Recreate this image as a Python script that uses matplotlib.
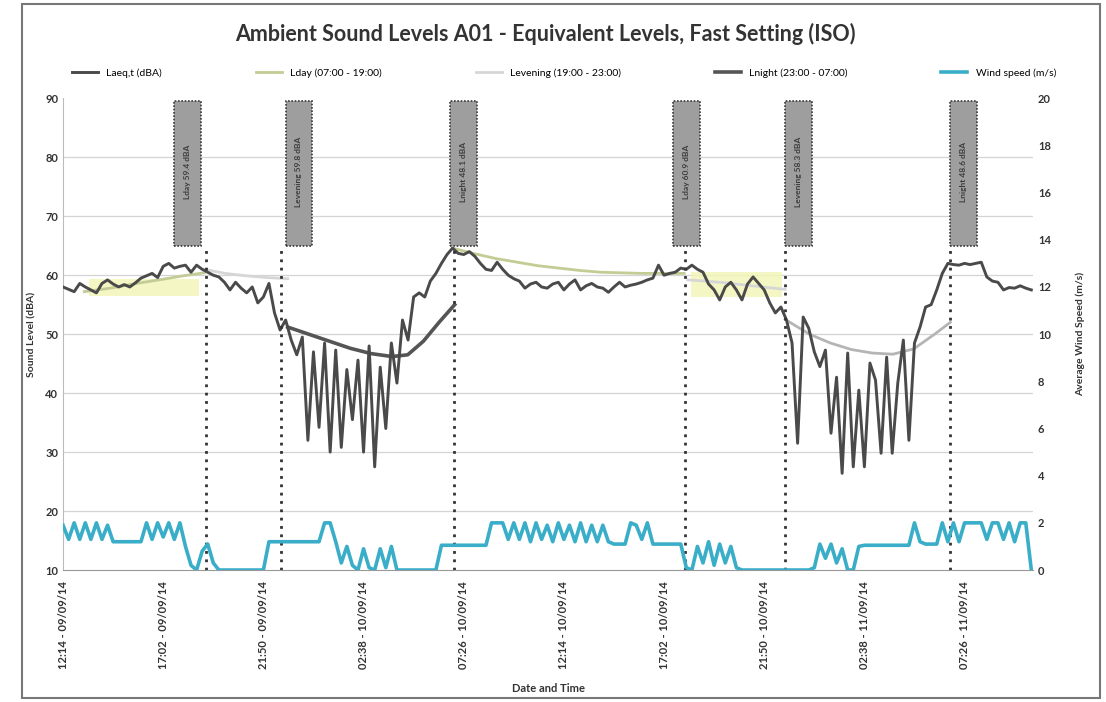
import numpy as np
import pandas as pd
import matplotlib

matplotlib.use("Agg")
import matplotlib.pyplot as plt
from matplotlib.patches import Rectangle

plt.rcParams["font.family"] = ["Lato", "DejaVu Sans"]

# LAeq,T every 16 min from 12:14 09/09/14
laeq = [58.0, 57.6, 57.2, 58.6, 58.0, 57.5, 57.0, 58.6, 59.2, 58.5,
        58.0, 58.4, 58.0, 58.7, 59.5, 59.9, 60.3, 59.6, 61.5, 62.0,
        61.2, 61.5, 61.7, 60.5, 61.7, 61.0, 60.5, 60.0, 59.7, 58.8,
        57.5, 58.8, 57.8, 57.0, 58.0, 55.3, 56.3, 58.6, 53.6, 50.7,
        52.4, 49.0, 46.5, 49.5, 32.0, 47.0, 34.2, 48.5, 30.0, 47.3,
        30.8, 44.0, 35.5, 45.6, 30.0, 48.0, 27.5, 44.4, 34.0, 48.5,
        41.7, 52.4, 49.0, 56.3, 57.0, 56.3, 59.0, 60.3, 62.0, 63.5,
        64.6, 63.7, 63.5, 64.0, 63.2, 62.0, 61.0, 60.8, 62.2, 61.0,
        60.0, 59.4, 59.0, 57.8, 58.5, 58.8, 58.0, 57.8, 58.5, 58.8,
        57.5, 58.5, 59.2, 57.5, 58.2, 58.6, 58.0, 57.8, 57.1, 58.0,
        58.8, 58.0, 58.3, 58.5, 58.8, 59.2, 59.5, 61.7, 60.0, 60.3,
        60.5, 61.2, 61.0, 61.7, 61.0, 60.5, 58.5, 57.5, 55.8, 58.0,
        58.8, 57.5, 55.8, 58.5, 59.7, 58.6, 57.5, 55.3, 53.6, 54.6,
        52.4, 48.5, 31.5, 52.9, 51.0, 47.0, 44.5, 47.3, 33.2, 42.7,
        26.4, 46.8, 27.5, 40.5, 27.5, 45.1, 42.2, 29.8, 46.1, 29.8,
        41.7, 49.0, 32.0, 48.5, 51.2, 54.6, 55.0, 57.5, 60.3, 62.0,
        61.8, 61.7, 62.0, 61.8, 62.0, 62.2, 59.7, 59.0, 58.8, 57.5,
        57.9, 57.8, 58.2, 57.8, 57.5]

wind = [1.9, 1.3, 2.0, 1.3, 2.0, 1.3, 2.0, 1.3, 1.9, 1.2,
        1.2, 1.2, 1.2, 1.2, 1.2, 2.0, 1.3, 2.0, 1.4, 2.0,
        1.3, 2.0, 1.0, 0.2, 0.0, 0.8, 1.1, 0.3, 0.0, 0.0,
        0.0, 0.0, 0.0, 0.0, 0.0, 0.0, 0.0, 1.2, 1.2, 1.2,
        1.2, 1.2, 1.2, 1.2, 1.2, 1.2, 1.2, 2.0, 2.0, 1.2,
        0.3, 1.0, 0.2, 0.0, 0.9, 0.1, 0.0, 0.9, 0.1, 1.0,
        0.0, 0.0, 0.0, 0.0, 0.0, 0.0, 0.0, 0.0, 1.05, 1.05,
        1.05, 1.05, 1.05, 1.05, 1.05, 1.05, 1.05, 2.0, 2.0, 2.0,
        1.3, 2.0, 1.3, 2.0, 1.2, 2.0, 1.3, 1.9, 1.2, 2.0,
        1.3, 1.9, 1.2, 2.0, 1.2, 1.9, 1.2, 1.9, 1.2, 1.1,
        1.1, 1.1, 2.0, 1.9, 1.3, 2.0, 1.1, 1.1, 1.1, 1.1,
        1.1, 1.1, 0.1, 0.0, 1.0, 0.3, 1.2, 0.2, 1.1, 0.3,
        1.0, 0.1, 0.0, 0.0, 0.0, 0.0, 0.0, 0.0, 0.0, 0.0,
        0.0, 0.0, 0.0, 0.0, 0.0, 0.1, 1.1, 0.5, 1.1, 0.3,
        0.9, 0.0, 0.0, 1.0, 1.05, 1.05, 1.05, 1.05, 1.05, 1.05,
        1.05, 1.05, 1.05, 2.0, 1.2, 1.1, 1.1, 1.1, 2.0, 1.2,
        2.0, 1.2, 2.0, 2.0, 2.0, 2.0, 1.3, 2.0, 2.0, 1.3,
        2.0, 1.2, 2.0, 2.0, 0.0]

# period levels (running values)
lday_t1 = ["2014-09-09 13:15", "2014-09-09 14:30", "2014-09-09 15:45",
           "2014-09-09 17:00", "2014-09-09 18:00", "2014-09-09 19:00"]
lday_v1 = [57.2, 57.8, 58.6, 59.3, 59.9, 60.4]
lday_t2 = ["2014-09-10 07:00", "2014-09-10 08:00", "2014-09-10 09:00",
           "2014-09-10 10:00", "2014-09-10 11:00", "2014-09-10 12:00",
           "2014-09-10 13:00", "2014-09-10 14:00", "2014-09-10 15:00",
           "2014-09-10 16:00", "2014-09-10 17:00", "2014-09-10 18:00"]
lday_v2 = [64.5, 63.6, 62.8, 62.2, 61.6, 61.2, 60.8, 60.5, 60.4, 60.3, 60.3, 60.3]

leve_t1 = ["2014-09-09 19:00", "2014-09-09 20:00", "2014-09-09 21:00",
           "2014-09-09 22:00", "2014-09-09 23:00"]
leve_v1 = [61.0, 60.3, 59.9, 59.6, 59.4]
leve_t2 = ["2014-09-10 18:10", "2014-09-10 19:00", "2014-09-10 20:00",
           "2014-09-10 21:00", "2014-09-10 22:00", "2014-09-10 22:50"]
leve_v2 = [59.2, 59.0, 58.7, 58.3, 57.9, 57.6]

lnight_t1 = ["2014-09-09 23:00", "2014-09-10 00:00", "2014-09-10 01:00",
             "2014-09-10 02:00", "2014-09-10 03:00", "2014-09-10 04:00",
             "2014-09-10 04:45", "2014-09-10 05:30", "2014-09-10 06:15",
             "2014-09-10 07:00"]
lnight_v1 = [51.2, 50.0, 48.8, 47.6, 46.7, 46.2, 46.5, 48.8, 52.0, 55.0]
lnight_t2 = ["2014-09-10 22:50", "2014-09-11 00:00", "2014-09-11 01:00",
             "2014-09-11 02:00", "2014-09-11 03:00", "2014-09-11 04:00",
             "2014-09-11 05:00", "2014-09-11 06:00", "2014-09-11 06:45"]
lnight_v2 = [52.5, 50.0, 48.5, 47.4, 46.8, 46.6, 47.5, 50.0, 52.0]

marker_t = ["2014-09-09 19:05", "2014-09-09 22:40", "2014-09-10 06:57",
            "2014-09-10 18:03", "2014-09-10 22:50", "2014-09-11 06:44"]
box_t = ["2014-09-09 17:33", "2014-09-09 22:54", "2014-09-10 06:48",
         "2014-09-10 17:29", "2014-09-10 22:50", "2014-09-11 06:44"]
box_text = ["Lday 59.4 dBA", "Levening 59.8 dBA", "Lnight 48.1 dBA",
            "Lday 60.9 dBA", "Levening 58.3 dBA", "Lnight 48.6 dBA"]

start = pd.Timestamp("2014-09-09 12:14")
times = pd.date_range(start, periods=len(laeq), freq="16min")
tick_times = pd.date_range(start, periods=10, freq="288min")
tick_labels = [t.strftime("%H:%M - %d/%m/%y") for t in tick_times]

fig = plt.figure(figsize=(11.06, 7.02), dpi=100)
ax = fig.add_axes([0.057, 0.188, 0.877, 0.672])
ax2 = ax.twinx()

grid_c = "#d4d4d4"
for v in range(20, 90, 10):
    ax.axhline(v, color=grid_c, lw=0.9, zorder=0)

# highlighter marks on the scan
ax.add_patch(Rectangle((pd.Timestamp("2014-09-09 13:30"), 56.4),
                       pd.Timedelta("315min"), 3.0, color="#f2f6b4", alpha=0.8, lw=0, zorder=1))
ax.add_patch(Rectangle((pd.Timestamp("2014-09-10 18:20"), 56.3),
                       pd.Timedelta("260min"), 4.2, color="#f2f6b4", alpha=0.8, lw=0, zorder=1))

ax.plot(times, laeq, color="#4a4a4a", lw=2.1, label="Laeq,t (dBA)", zorder=4)
ax.plot(pd.to_datetime(lday_t1), lday_v1, color="#c3cc94", lw=2, label="Lday (07:00 - 19:00)", zorder=3)
ax.plot(pd.to_datetime(lday_t2), lday_v2, color="#c3cc94", lw=2, zorder=3)
ax.plot(pd.to_datetime(leve_t1), leve_v1, color="#d6d6d6", lw=2, label="Levening (19:00 - 23:00)", zorder=3)
ax.plot(pd.to_datetime(leve_t2), leve_v2, color="#d6d6d6", lw=2, zorder=3)
ax.plot(pd.to_datetime(lnight_t1), lnight_v1, color="#555555", lw=2.6, label="Lnight (23:00 - 07:00)", zorder=3)
ax.plot(pd.to_datetime(lnight_t2), lnight_v2, color="#b5b5b5", lw=2, zorder=3)
ax2.plot(times, wind, color="#3aaec8", lw=2.6, label="Wind speed (m/s)", zorder=4)

ax.vlines(pd.to_datetime(marker_t), 10, 65, colors="#333333", linestyles=(0, (1, 2)), lw=2, zorder=5)

for t, txt in zip(box_t, box_text):
    t0 = pd.Timestamp(t)
    ax.add_patch(Rectangle((t0, 65), pd.Timedelta("77min"), 24.5, facecolor="#9e9e9e",
                           edgecolor="#3a3a3a", lw=1.2, linestyle=(0, (1, 1)), zorder=6))
    ax.text(t0 + pd.Timedelta("38min"), 77.5, txt, rotation=90, ha="center", va="center",
            fontsize=6, color="#3c3c3c", fontweight="bold", zorder=7)

ax.set_xlim(times[0], times[0] + pd.Timedelta(minutes=174.3 * 16))
ax.set_ylim(10, 90)
ax2.set_ylim(0, 20)
ax.set_yticks(range(10, 91, 10))
ax2.set_yticks(range(0, 21, 2))
ax.set_xticks(tick_times)
ax.set_xticklabels(tick_labels, rotation=90, fontsize=8, fontweight="bold", color="#333333")
ax.tick_params(axis="y", labelsize=8, length=0, labelcolor="#333333")
ax2.tick_params(axis="y", labelsize=8, length=0, labelcolor="#333333")
ax.tick_params(axis="x", length=0, pad=8)
for lab in ax.get_yticklabels() + ax2.get_yticklabels():
    lab.set_fontweight("bold")
for s in ["top", "right", "left", "bottom"]:
    ax.spines[s].set_visible(False)
    ax2.spines[s].set_visible(False)
ax.spines["left"].set_visible(True)
ax.spines["left"].set_color("#bbbbbb")
ax.spines["bottom"].set_visible(True)
ax.spines["bottom"].set_color("#999999")

ax.set_ylabel("Sound Level (dBA)", fontsize=7.5, fontweight="bold", color="#333333", labelpad=6)
ax2.set_ylabel("Average Wind Speed (m/s)", fontsize=7.5, fontweight="bold", color="#333333", labelpad=18)
ax.set_xlabel("Date and Time", fontsize=8, fontweight="bold", color="#333333", labelpad=10)

fig.text(0.493, 0.952, "Ambient Sound Levels A01 - Equivalent Levels, Fast Setting (ISO)",
         ha="center", va="center", fontsize=15.5, fontweight="bold", color="#333333")

h1, l1 = ax.get_legend_handles_labels()
h2, l2 = ax2.get_legend_handles_labels()
fig.legend(h1 + h2, l1 + l2, loc="center", bbox_to_anchor=(0.51, 0.896), ncol=5,
           frameon=False, fontsize=7.5, columnspacing=9, handlelength=2.5)

fig.add_artist(Rectangle((0.02, 0.005), 0.975, 0.99, transform=fig.transFigure,
                         fill=False, edgecolor="#777777", lw=1.5))

fig.savefig("out.png", dpi=100)
